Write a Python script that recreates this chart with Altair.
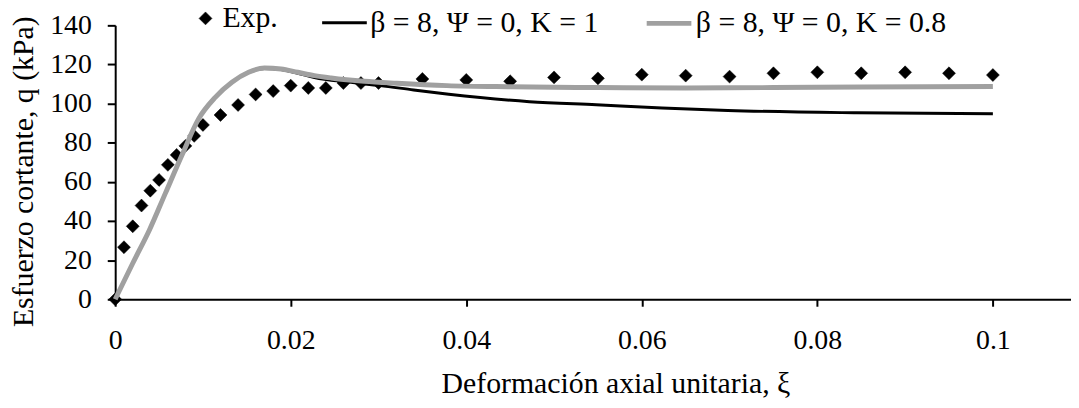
import altair as alt
import pandas as pd

# ---- data ----
exp_x = [0, 0.001, 0.002, 0.003, 0.004, 0.005, 0.006, 0.007, 0.008, 0.009, 0.010,
         0.012, 0.014, 0.016, 0.018, 0.020, 0.022, 0.024, 0.026, 0.028, 0.030,
         0.035, 0.040, 0.045, 0.050, 0.055, 0.060, 0.065, 0.070, 0.075, 0.080,
         0.085, 0.090, 0.095, 0.100]
exp_y = [0, 26.6, 37.3, 47.9, 55.5, 61.0, 68.7, 73.8, 78.4, 83.5, 89.1,
         94.2, 99.3, 104.7, 106.4, 109.2, 108.0, 108.0, 110.5, 110.5, 110.5,
         112.6, 112.1, 111.4, 113.4, 112.9, 114.8, 114.3, 113.8, 115.5, 116.0,
         115.5, 116.0, 115.5, 114.6]

k1_x = [0, 0.002, 0.0039, 0.0057, 0.0076, 0.0095, 0.0114, 0.0133, 0.0152, 0.017,
        0.0189, 0.0208, 0.0227, 0.0265, 0.0302, 0.034, 0.038, 0.0472, 0.0548,
        0.0623, 0.0698, 0.0845, 0.1]
k1_y = [0, 18.4, 35.4, 54.0, 73.6, 92.2, 103.2, 110.9, 116.0, 118.0,
        117.4, 115.5, 113.3, 111.0, 109.2, 107.0, 104.8, 101.0, 99.4,
        97.8, 96.5, 95.3, 94.8]

k08_x = [0, 0.002, 0.0039, 0.0057, 0.0076, 0.0095, 0.0114, 0.0133, 0.0152, 0.017,
         0.0189, 0.0208, 0.0227, 0.0246, 0.0284, 0.0321, 0.0378, 0.045, 0.055,
         0.065, 0.075, 0.085, 0.1]
k08_y = [0, 18.4, 35.4, 54.0, 73.6, 92.2, 103.2, 110.9, 116.0, 118.2,
         117.7, 116.0, 114.3, 113.1, 111.4, 110.4, 109.2, 108.6, 108.2,
         108.0, 108.2, 108.5, 108.8]

series_names = ["Exp.", "β = 8, Ψ = 0, K = 1", "β = 8, Ψ = 0, K = 0.8"]
series_colors = ["#000000", "#000000", "#a0a0a0"]
series_shapes = ["diamond", "stroke", "stroke"]
series_sizes = [170, 2025, 2025]
series_widths = [0.5, 3, 5]

x_ticks = [0, 0.02, 0.04, 0.06, 0.08, 0.1]

exp_df = pd.DataFrame({"x": exp_x, "y": exp_y, "series": series_names[0]})
k1_df = pd.DataFrame({"x": k1_x, "y": k1_y, "series": series_names[1]})
k08_df = pd.DataFrame({"x": k08_x, "y": k08_y, "series": series_names[2]})

FONT = "Liberation Serif"
FS = 28
FT = 30

xscale = alt.Scale(domain=[0, 0.1089], nice=False, zero=True)
yscale = alt.Scale(domain=[0, 140], nice=False)

xenc = alt.X("x:Q", scale=xscale, axis=alt.Axis(
    values=x_ticks, format="~g", title="Deformación axial unitaria, ξ",
    titleX=504, titleY=94, titleAlign="center", titleBaseline="alphabetic",
    labelPadding=21, tickSize=7, labelFlush=False, labelOverlap=False))
yenc = alt.Y("y:Q", scale=yscale, axis=alt.Axis(
    values=list(range(0, 141, 20)), title="Esfuerzo cortante, q (kPa)",
    titleX=-92, titleY=147, titleAngle=-90, titleAlign="center",
    titleBaseline="middle", labelPadding=16, tickSize=8))

legend = alt.Legend(orient="none", legendX=76, legendY=-27, direction="horizontal",
                    title=None, labelFont=FONT, labelFontSize=FT, labelColor="#000",
                    labelOffset=2, columnPadding=38, padding=0, labelLimit=0)

points = alt.Chart(exp_df).mark_point(filled=True, opacity=1).encode(
    x=xenc, y=yenc,
    fill=alt.Fill("series:N", scale=alt.Scale(domain=series_names, range=series_colors), legend=legend),
    stroke=alt.Stroke("series:N", scale=alt.Scale(domain=series_names, range=series_colors), legend=legend),
    shape=alt.Shape("series:N", scale=alt.Scale(domain=series_names, range=series_shapes), legend=legend),
    size=alt.Size("series:N", scale=alt.Scale(type="ordinal", domain=series_names, range=series_sizes), legend=legend),
    strokeWidth=alt.StrokeWidth("series:N", scale=alt.Scale(type="ordinal", domain=series_names, range=series_widths), legend=legend),
)

line_k1 = alt.Chart(k1_df).mark_line(interpolate="monotone", color="#000000", strokeWidth=3).encode(
    x=xenc, y=yenc)
line_k08 = alt.Chart(k08_df).mark_line(interpolate="monotone", color="#a0a0a0", strokeWidth=5).encode(
    x=xenc, y=yenc)

chart = alt.layer(points, line_k1, line_k08).properties(
    width=963, height=276,
    autosize=alt.AutoSizeParams(type="none"),
    padding={"left": 108, "top": 16, "right": 0, "bottom": 100},
    background="white",
).configure_view(stroke=None).configure_axis(
    labelFont=FONT, labelFontSize=FS, labelColor="#000",
    titleFont=FONT, titleFontSize=FT, titleColor="#000", titleFontWeight="normal",
    domainColor="#000", domainWidth=2, tickColor="#000", tickWidth=2, grid=False,
)

chart.save("out.html", embed_options={"renderer": "svg", "actions": False})
